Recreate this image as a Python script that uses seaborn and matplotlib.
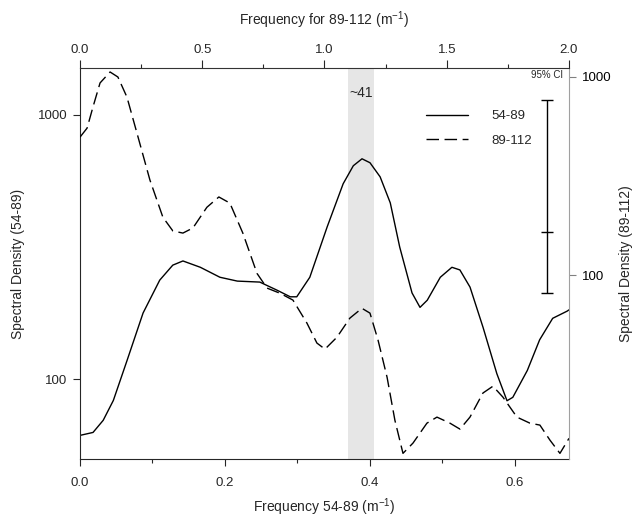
import numpy as np
import pandas as pd
import matplotlib
matplotlib.use("Agg")
import matplotlib.pyplot as plt
import seaborn as sns
from matplotlib.ticker import MultipleLocator, NullLocator
from matplotlib.lines import Line2D

# 54-89 series, plotted against the bottom frequency axis (m^-1)
freq_5489 = [0.0, 0.018, 0.032, 0.046, 0.065, 0.087, 0.110, 0.128, 0.142, 0.166,
             0.193, 0.217, 0.248, 0.272, 0.290, 0.299, 0.317, 0.341, 0.363, 0.377,
             0.389, 0.400, 0.414, 0.428, 0.441, 0.458, 0.469, 0.479, 0.497, 0.513,
             0.524, 0.538, 0.556, 0.575, 0.589, 0.597, 0.617, 0.634, 0.652, 0.672, 0.6745]
dens_5489 = [61.4, 63.0, 70.0, 83.2, 118, 178, 237, 270, 280, 265,
             243, 235, 233, 217, 205, 205, 243, 377, 548, 641,
             681, 658, 582, 464, 316, 212, 187, 199, 243, 265,
             259, 223, 157, 105, 83, 85.5, 108, 141, 170, 181, 183]

# 89-112 series, plotted against the top frequency axis (m^-1)
freq_89112 = [0.0, 0.029, 0.053, 0.082, 0.123, 0.155, 0.192, 0.233, 0.286, 0.339,
              0.380, 0.421, 0.462, 0.519, 0.568, 0.613, 0.666, 0.724, 0.765, 0.818,
              0.871, 0.928, 0.969, 1.002, 1.051, 1.104, 1.153, 1.186, 1.219, 1.256,
              1.288, 1.321, 1.362, 1.419, 1.460, 1.513, 1.554, 1.595, 1.648, 1.689,
              1.730, 1.787, 1.840, 1.881, 1.922, 1.963, 2.0]
dens_89112 = [497, 552, 705, 933, 1060, 1000, 792, 521, 302, 196,
              167, 163, 173, 220, 248, 231, 163, 102, 86, 81,
              74.8, 57.3, 45.4, 42.3, 48.6, 60.7, 68.0, 64.3, 47.0, 30.5,
              18.5, 12.6, 14.2, 17.9, 19.2, 17.9, 16.7, 19.2, 25.4, 27.5,
              24.2, 19.2, 17.9, 17.5, 14.7, 12.6, 15.0]

band = [0.370, 0.406]          # shaded ~41 cm band (bottom axis units)
band_label = "~41"
ci_x = 1.91                    # 95% CI bar position (top axis units)
ci_lo, ci_mid, ci_hi = 81, 165, 765

df1 = pd.DataFrame({"freq": freq_5489, "dens": dens_5489})
df2 = pd.DataFrame({"freq": freq_89112, "dens": dens_89112})

sns.set_style("ticks")
plt.rcParams['font.family'] = ['Liberation Sans', 'DejaVu Sans']
plt.rcParams['mathtext.fontset'] = 'custom'
plt.rcParams['mathtext.rm'] = 'Liberation Sans'
plt.rcParams['mathtext.it'] = 'Liberation Sans:italic'

fig = plt.figure(figsize=(6.43, 5.18), dpi=100)
pos = [0.1244, 0.1139, 0.7605, 0.7548]
ax = fig.add_axes(pos)
ax2 = fig.add_axes(pos)
ax2.patch.set_visible(False)

ax.axvspan(band[0], band[1], color='#e6e6e6', lw=0, zorder=0)
sns.lineplot(data=df1, x="freq", y="dens", ax=ax, color='k', lw=1.0, legend=False)
sns.lineplot(data=df2, x="freq", y="dens", ax=ax2, color='k', lw=1.0, legend=False)
ax2.lines[0].set_linestyle((0, (9, 4)))
for ln in ax.lines + ax2.lines:
    ln.set_solid_joinstyle('round')
    ln.set_dash_joinstyle('round')

ax2.errorbar([ci_x], [ci_mid], yerr=[[ci_mid - ci_lo], [ci_hi - ci_mid]], fmt='none',
             ecolor='k', elinewidth=1, capsize=4, capthick=1)
ax2.plot([ci_x], [ci_mid], marker='_', ms=8, mew=1, color='k')

# bottom / left axes
ax.set_xlim(0, 0.6745)
ax.xaxis.set_major_locator(MultipleLocator(0.2))
ax.xaxis.set_minor_locator(MultipleLocator(0.1))
ax.xaxis.set_major_formatter(lambda v, p: f"{v:.1f}")
ax.set_yscale('log')
ax.set_ylim(50, 1500)
ax.set_yticks([100, 1000], labels=['100', '1000'])
ax.yaxis.set_minor_locator(NullLocator())
ax.spines['top'].set_visible(False)
ax.spines['right'].set_visible(False)

# top / right axes
ax2.xaxis.tick_top()
ax2.xaxis.set_label_position('top')
ax2.yaxis.tick_right()
ax2.yaxis.set_label_position('right')
ax2.set_xlim(0, 2.0)
ax2.xaxis.set_major_locator(MultipleLocator(0.5))
ax2.xaxis.set_minor_locator(MultipleLocator(0.25))
ax2.xaxis.set_major_formatter(lambda v, p: f"{v:.1f}")
ax2.set_yscale('log')
ax2.set_ylim(11.8, 1110)
ax2.set_yticks([100, 1000], labels=['100', '1000'])
ax2.yaxis.set_minor_locator(NullLocator())
ax2.spines['left'].set_visible(False)
ax2.spines['bottom'].set_visible(False)
ax2.spines['right'].set_color('#a0a0a0')
ax2.spines['top'].set_color('#333333')

for a in (ax, ax2):
    a.tick_params(which='major', direction='out', length=5, width=0.8, labelsize=9.5)
    a.tick_params(which='minor', direction='out', length=3, width=0.8)
ax.tick_params(axis='x', pad=8)
ax.tick_params(axis='y', pad=4)
ax2.tick_params(axis='x', which='major', length=6, pad=3)
ax2.tick_params(axis='y', pad=4, colors='#808080', labelcolor='k')

ax.set_xlabel("Frequency 54-89 (m$^{-1}$)", fontsize=10, labelpad=5)
ax.set_ylabel("Spectral Density (54-89)", fontsize=10, labelpad=9)
ax2.set_xlabel("Frequency for 89-112 (m$^{-1}$)", fontsize=10, labelpad=13)
ax2.set_ylabel("Spectral Density (89-112)", fontsize=10, labelpad=6)

ax.text(np.mean(band), 0.936, band_label, transform=ax.get_xaxis_transform(),
        ha='center', va='center', fontsize=10)
ax2.text(ci_x, 0.982, "95% CI", transform=ax2.get_xaxis_transform(),
         ha='center', va='center', fontsize=7)

handles = [Line2D([], [], color='k', lw=1.0),
           Line2D([], [], color='k', lw=1.0, linestyle=(0, (9, 4)))]
ax2.legend(handles, ["54-89", "89-112"], loc='upper right', bbox_to_anchor=(0.925, 0.892),
           frameon=False, fontsize=9.5, handlelength=3.2, labelspacing=0.9,
           borderpad=0, borderaxespad=0, handletextpad=1.8)

fig.savefig("out.png", dpi=100)
